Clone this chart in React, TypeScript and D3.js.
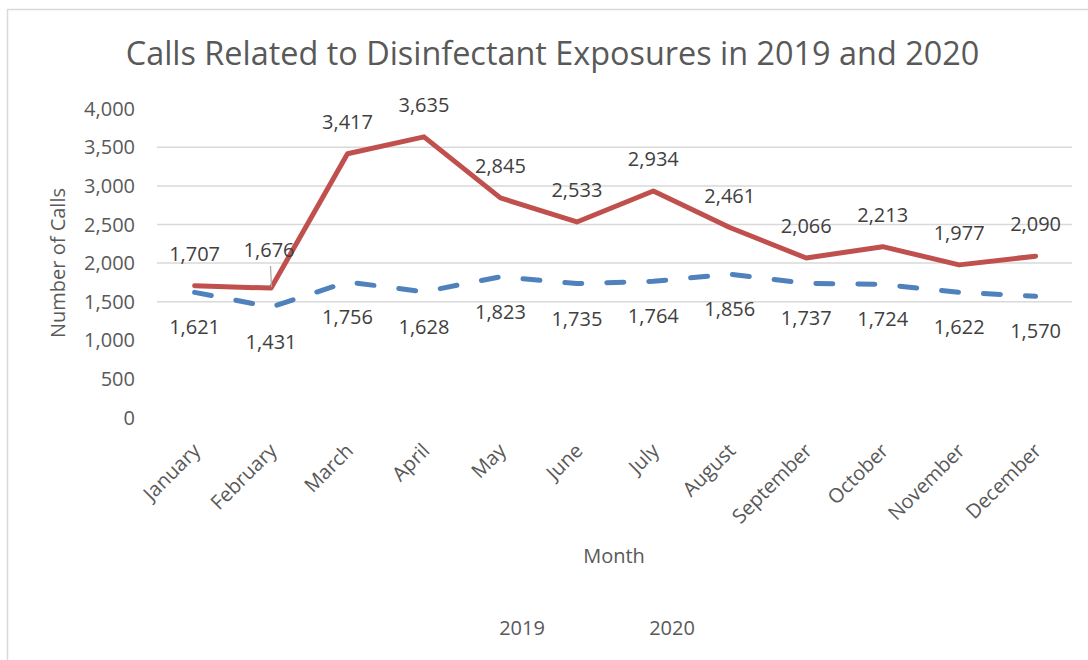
import React from "react";
import * as d3 from "d3";

const months = ["January","February","March","April","May","June","July","August","September","October","November","December"];
const calls2019 = [1621,1431,1756,1628,1823,1735,1764,1856,1737,1724,1622,1570];
const calls2020 = [1707,1676,3417,3635,2845,2533,2934,2461,2066,2213,1977,2090];
const yTicks = [0,500,1000,1500,2000,2500,3000,3500,4000];
const gridTicks = [1500,2000,2500,3000,3500];
const seriesNames = ["2019","2020"];

const W = 1088, H = 660;
const FONT = "'Open Sans', sans-serif";
const RED = "#c0504d", BLUE = "#4f81bd";

export default function App() {
  const x = d3.scalePoint<string>().domain(months).range([194.6, 1035.6]);
  const y = d3.scaleLinear().domain([0, 4000]).range([417.5, 108.7]);
  const fmt = d3.format(",");
  const line = d3.line<number>().x((_, i) => x(months[i])!).y(d => y(d));
  return (
    <svg width={W} height={H} style={{ position: "absolute", left: 0, top: 0, background: "#fff" }} fontFamily={FONT}>
      <rect x={7.5} y={9.5} width={1100} height={700} fill="#fff" stroke="#d9d9d9" strokeWidth={1.5} />
      <text x={552.5} y={65} textAnchor="middle" fontSize={32.4} fill="#595959">Calls Related to Disinfectant Exposures in 2019 and 2020</text>
      {gridTicks.map(t => (
        <line key={t} x1={157} x2={1072} y1={y(t)} y2={y(t)} stroke="#d9d9d9" strokeWidth={1.5} />
      ))}
      {yTicks.map(t => (
        <text key={t} x={135} y={y(t)} dy="0.35em" textAnchor="end" fontSize={20} fill="#595959">{fmt(t)}</text>
      ))}
      <text transform={`translate(58,263) rotate(-90)`} textAnchor="middle" dy="0.35em" fontSize={20} fill="#595959">Number of Calls</text>
      {months.map(m => (
        <text key={m} transform={`translate(${x(m)! + 2},447) rotate(-45)`} textAnchor="end" dy="0.35em" fontSize={20} fill="#595959">{m}</text>
      ))}
      <text x={614} y={556} textAnchor="middle" dy="0.35em" fontSize={20} fill="#595959">Month</text>
      <path d={line(calls2019)!} fill="none" stroke={BLUE} strokeWidth={5} strokeDasharray="17,25" strokeLinecap="round" strokeLinejoin="round" />
      <path d={line(calls2020)!} fill="none" stroke={RED} strokeWidth={5} strokeLinecap="round" strokeLinejoin="round" />
      <line x1={270.5} y1={266} x2={271.5} y2={287} stroke="#a6a6a6" strokeWidth={1.2} />
      {calls2020.map((v, i) => {
        const isFeb = i === 1;
        return (
          <text key={"r" + i} x={x(months[i])! - (isFeb ? 2 : 0)} y={y(v) - (isFeb ? 38 : 32)} dy="0.35em" textAnchor="middle" fontSize={20} fill="#404040">{fmt(v)}</text>
        );
      })}
      {calls2019.map((v, i) => (
        <text key={"b" + i} x={x(months[i])!} y={y(v) + 35} dy="0.35em" textAnchor="middle" fontSize={20} fill="#404040">{fmt(v)}</text>
      ))}
      <text x={522} y={635} textAnchor="middle" fontSize={20} fill="#595959">{seriesNames[0]}</text>
      <text x={672} y={635} textAnchor="middle" fontSize={20} fill="#595959">{seriesNames[1]}</text>
    </svg>
  );
}
